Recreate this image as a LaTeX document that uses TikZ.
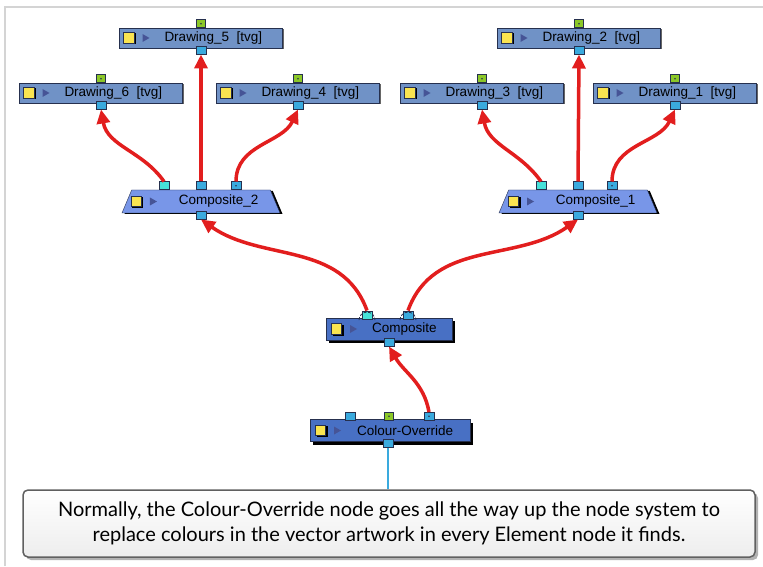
\documentclass[tikz,border=0pt]{standalone}
\usepackage{fontspec}
\setmainfont{Liberation Sans}
\newfontfamily\capfont{Lato}
\usetikzlibrary{arrows.meta,positioning,shapes.geometric,shadows}

\definecolor{drwfill}{RGB}{112,146,198}
\definecolor{cmpfill}{RGB}{120,150,232}
\definecolor{rootfill}{RGB}{72,112,196}
\definecolor{navy}{RGB}{38,48,78}
\definecolor{wirered}{RGB}{226,30,30}
\definecolor{portblue}{RGB}{58,170,222}
\definecolor{portcyan}{RGB}{70,226,218}
\definecolor{portgreen}{RGB}{140,200,40}
\definecolor{iconyel}{RGB}{250,228,80}
\definecolor{icontri}{RGB}{70,84,150}
\definecolor{framegray}{RGB}{212,212,212}
\definecolor{capedge}{RGB}{96,96,96}

\tikzset{
  icons/.style={path picture={
    \fill[black] ([shift={(#1+1.5pt,-6.5pt)}]path picture bounding box.west) rectangle ++(11pt,11pt);
    \draw[fill=iconyel,line width=0.6pt] ([shift={(#1,-5pt)}]path picture bounding box.west) rectangle ++(10.5pt,10.5pt);
    \fill[icontri] ([shift={(#1+19pt,-4pt)}]path picture bounding box.west) -- ++(0pt,8pt) -- ++(7pt,-4pt) -- cycle;}},
  prt/.style={draw=navy,minimum width=10pt,minimum height=8pt,inner sep=0pt,line width=0.6pt},
  pblu/.style={prt,fill=portblue},
  pcyn/.style={prt,fill=portcyan},
  pgrn/.style={prt,fill=portgreen,minimum width=9pt,
    path picture={\fill[navy] (path picture bounding box.center) circle (0.9pt);}},
  pdot/.style={pblu,
    path picture={\fill[navy] (path picture bounding box.center) circle (0.9pt);}}
}

\begin{document}
\begin{tikzpicture}[x=1pt,y=1pt,
  drw/.style={draw=navy,fill=drwfill,minimum width=163pt,minimum height=20pt,inner sep=0pt,icons=4pt,
    drop shadow={shadow xshift=1.5pt,shadow yshift=-1.5pt,fill=black!60,opacity=1}},
  cmp/.style={trapezium,trapezium angle=86,trapezium stretches=true,draw=navy,fill=cmpfill,
    minimum width=158pt,minimum height=23pt,inner sep=2pt,icons=9pt,
    drop shadow={shadow xshift=2.5pt,shadow yshift=-1pt,fill=black,opacity=1}},
  rootbox/.style={draw=navy,fill=rootfill,minimum width=126pt,minimum height=22pt,inner sep=0pt,icons=5pt,
    drop shadow={shadow xshift=3pt,shadow yshift=-3pt,fill=black,opacity=1}},
  lbl/.style={inner sep=0pt,font=\fontsize{13.5}{15}\selectfont},
  wire/.style={draw=wirered,line width=3.5pt,-{Triangle[length=14pt,width=13pt]}},
  capbox/.style={draw=capedge,line width=1.5pt,rounded corners=5pt,top color=white,bottom color=black!7,
    minimum width=732pt,minimum height=67pt,align=center,font=\capfont\fontsize{20}{25}\selectfont,
    drop shadow={shadow xshift=3pt,shadow yshift=-3pt,fill=black!30,opacity=1}}]
\useasboundingbox (0,0) rectangle (763,566);
\draw[framegray,line width=2pt] (5,0) -- (5,559) -- (763,559);

% drawing nodes
\foreach \nm/\x/\y/\idx in {d5/201/528/5,d6/101/473/6,d4/298/473/4,d2/579/528/2,d3/482/473/3,d1/675/473/1}{
  \node[drw] (\nm) at (\x,\y) {};
  \node[lbl,right=45pt of \nm.west] (\nm t) {Drawing\_\idx~~[tvg]};
  \node[pgrn] (\nm g) at ([yshift=4pt]\nm.north) {};
  \node[pblu] (\nm b) at ([yshift=-2pt]\nm.south) {};
}

% composites
\node[cmp] (c2) at (201,364.5) {};
\node[lbl,right=52pt of c2.west] (c2t) {Composite\_2};
\node[pcyn] (c2l) at ([xshift=-37pt,yshift=4pt]c2.north) {};
\node[pblu] (c2m) at ([yshift=4pt]c2.north) {};
\node[pdot] (c2r) at ([xshift=35pt,yshift=4pt]c2.north) {};
\node[pblu] (c2b) at ([yshift=-2pt]c2.south) {};

\node[cmp] (c1) at (578,364.5) {};
\node[lbl,right=52pt of c1.west] (c1t) {Composite\_1};
\node[pcyn] (c1l) at ([xshift=-37pt,yshift=4pt]c1.north) {};
\node[pblu] (c1m) at ([yshift=4pt]c1.north) {};
\node[pdot] (c1r) at ([xshift=34pt,yshift=4pt]c1.north) {};
\node[pblu] (c1b) at ([yshift=-2pt]c1.south) {};

\node[rootbox] (comp) at (389,237) {};
\node[lbl,right=46pt of comp.west] (compt) {Composite};
\node[pcyn] (compl) at ([xshift=-22pt,yshift=3pt]comp.north) {};
\node[pblu] (compr) at ([xshift=19pt,yshift=3pt]comp.north) {};
\node[pblu] (compb) at ([yshift=-2pt]comp.south) {};
\foreach \p in {compl,compr}
  \draw[navy,line width=0.8pt,dash pattern=on 3pt off 1.5pt] ([xshift=-8pt,yshift=-1pt]\p.south) arc[start angle=180,end angle=0,radius=8pt];

\node[rootbox,minimum width=160pt] (ovr) at (390,135.5) {};
\node[lbl,right=47pt of ovr.west] (ovrt) {Colour-Override};
\node[pblu] (ovrl) at ([xshift=-40pt,yshift=3pt]ovr.north) {};
\node[pgrn] (ovrm) at ([xshift=-1pt,yshift=3pt]ovr.north) {};
\node[pdot] (ovrr) at ([xshift=39pt,yshift=3pt]ovr.north) {};
\node[pblu] (ovrb) at ([xshift=-2pt,yshift=-2pt]ovr.south) {};

% caption
\node[capbox] (cap) at (389,42.5) {Normally, the Colour-Override node goes all the way up the node system to\\
  replace colours in the vector artwork in every Element node it finds.};
\draw[portblue,line width=1.5pt] (ovrb.south) -- (ovrb.south |- cap.north);

% connections
\draw[wire] (c2l.north) to[out=125,in=-80] (d6b.south);
\draw[wire] (c2m.north) -- (d5b.south);
\draw[wire] (c2r.north) to[out=90,in=-115] (d4b.south);
\draw[wire] (c1l.north) to[out=125,in=-80] (d3b.south);
\draw[wire] (c1m.north) -- (d2b.south);
\draw[wire] (c1r.north) to[out=90,in=-115] (d1b.south);
\draw[wire] (compl.north) to[out=110,in=-35] (c2b.south);
\draw[wire] (compr.north) to[out=70,in=215] (c1b.south);
\draw[wire] (ovrr.north) to[out=100,in=-60] (compb.south);
\end{tikzpicture}
\end{document}
